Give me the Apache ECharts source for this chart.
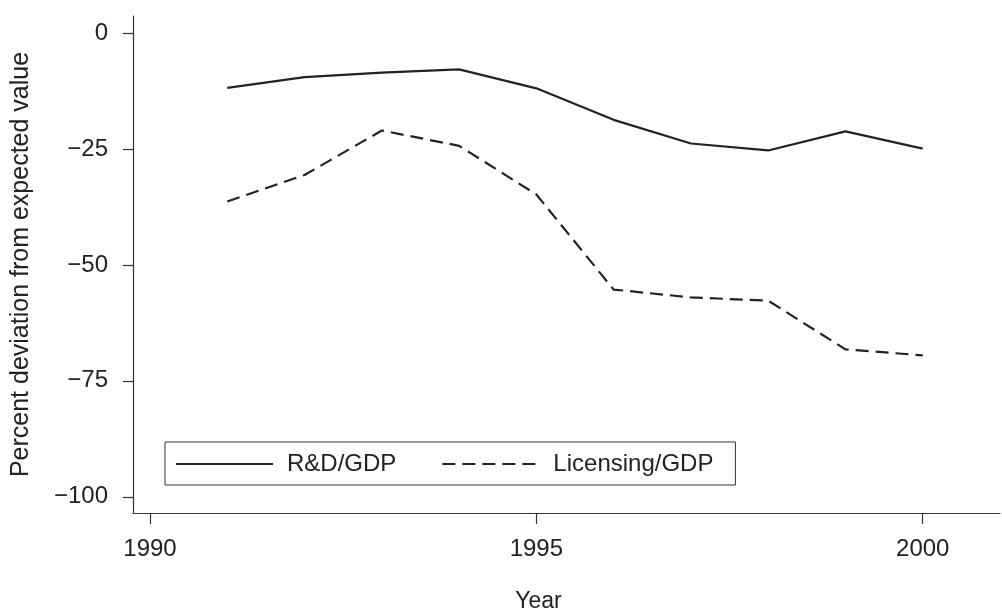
<!DOCTYPE html>
<html>
<head>
<meta charset="utf-8">
<script src="https://cdn.jsdelivr.net/npm/echarts@6/dist/echarts.min.js"></script>
<style>html,body{margin:0;padding:0;background:#fff}#c{width:1002px;height:611px}</style>
</head>
<body>
<div id="c"></div>
<script>
const years = [1991,1992,1993,1994,1995,1996,1997,1998,1999,2000];
const rdGdp = [-11.8,-9.5,-8.5,-7.8,-11.9,-18.7,-23.8,-25.3,-21.2,-24.9];
const licGdp = [-36.3,-30.6,-21.0,-24.3,-34.8,-55.3,-57.0,-57.7,-68.2,-69.5];
const xTicks = [1990,1995,2000];
const yTicks = [-100,-75,-50,-25,0];
const seriesNames = ['R&D/GDP','Licensing/GDP'];

const ink = '#222';
const font = 'Liberation Sans, Arial, Helvetica, sans-serif';
const fmt = v => v < 0 ? '\u2212' + Math.abs(v) : String(v);

const chart = echarts.init(document.getElementById('c'), null, {renderer:'canvas'});
chart.setOption({
  animation:false,
  backgroundColor:'#fff',
  grid:{left:133, right:2, top:16, bottom:98, containLabel:false, outerBoundsMode:'none'},
  legend:{
    left:165, top:442,
    orient:'horizontal',
    borderColor:'#333', borderWidth:1,
    padding:[10,22,9,10],
    itemWidth:97, itemHeight:14, itemGap:45,
    itemStyle:{opacity:0},
    textStyle:{fontFamily:font, fontSize:24, color:ink, padding:[0,0,0,9]},
    data:seriesNames
  },
  xAxis:{
    type:'value', min:1989.78, max:2001,
    name:'Year', nameLocation:'middle', nameGap:77,
    nameTextStyle:{fontFamily:font, fontSize:23, color:ink, padding:[0,56,0,0]},
    axisLine:{show:true, onZero:false, lineStyle:{color:'#333', width:1.2}},
    axisTick:{show:true, length:11, customValues:xTicks, lineStyle:{color:'#333', width:1.2}},
    axisLabel:{customValues:xTicks, formatter:v => String(v), fontFamily:font, fontSize:24, color:ink, margin:24},
    splitLine:{show:false}
  },
  yAxis:{
    type:'value', min:-103.5, max:3.7,
    name:'Percent deviation from expected value', nameLocation:'middle', nameRotate:90, nameGap:99,
    nameTextStyle:{fontFamily:font, fontSize:25, color:ink},
    axisLine:{show:true, onZero:false, lineStyle:{color:'#333', width:1.2}},
    axisTick:{show:true, length:10, customValues:yTicks, lineStyle:{color:'#333', width:1.2}},
    axisLabel:{customValues:yTicks, formatter:fmt, fontFamily:font, fontSize:24, color:ink, margin:25},
    splitLine:{show:false}
  },
  series:[
    {name:seriesNames[0], type:'line', symbol:'none', data:years.map((y,i)=>[y,rdGdp[i]]),
     lineStyle:{color:ink, width:2.2, type:'solid'}, itemStyle:{color:ink}},
    {name:seriesNames[1], type:'line', symbol:'none', data:years.map((y,i)=>[y,licGdp[i]]),
     lineStyle:{color:ink, width:2.2, type:[13,7]}, itemStyle:{color:ink}}
  ]
});
</script>
</body>
</html>
